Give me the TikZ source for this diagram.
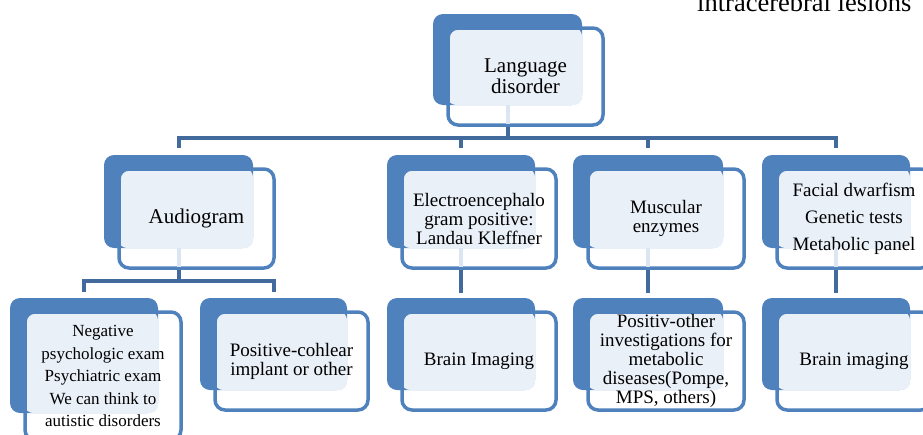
\documentclass[tikz,border=0pt]{standalone}
\usepackage{fontspec}
\setmainfont{Liberation Serif}
\usetikzlibrary{calc}
\definecolor{backblue}{HTML}{4F81BD}
\definecolor{lightfill}{HTML}{EAF0F8}
\definecolor{linkblue}{HTML}{426A9C}
\definecolor{paleline}{HTML}{DCE6F2}
\tikzset{
  frontbox/.style={draw=backblue, line width=3.5, rounded corners=10, align=center, inner sep=0pt},
  link/.style={draw=linkblue, line width=4},
  pale/.style={draw=paleline, line width=4},
  txt/.style={font=\fontsize{19}{19}\selectfont},
  bigtxt/.style={font=\fontsize{21}{21}\selectfont},
}
% #1 name, #2 Bx1, #3 By1, #4 Bx2, #5 By2, #6 Fx2, #7 Fy2, #8 node options, #9 text
\newcommand\stackbox[9]{%
  \fill[backblue, rounded corners=10] (#2,#3) rectangle (#4,#5);
  \fill[lightfill, rounded corners=8] (#2+15,#3+14) rectangle (#4,#5);
  \coordinate (#1-c) at ({(#2+#4)/2},#5);
  \coordinate (#1-t) at ({(#2+#4)/2},#3);
  \node[frontbox, #8, minimum width={#6-#2-15}, minimum height={#7-#3-14}] (#1)
     at ({(#2+15+#6)/2},{(#3+14+#7)/2}) {#9};
}
\begin{document}
\begin{tikzpicture}[x=1pt,y=-1pt]
\useasboundingbox (0,0) rectangle (923,434);

\node[anchor=base west, font=\fontsize{26.5}{26.5}\selectfont, inner sep=0pt] (note) at (697,11) {intracerebral lesions};

% top
\stackbox{top}{433}{14}{582}{105}{603}{125}{bigtxt}{Language\\disorder}
% level 2
\stackbox{aud}{104}{155}{253}{248}{274}{268}{bigtxt}{Audiogram}
\stackbox{eeg}{387}{155}{535}{248}{556}{268}{txt}{Electroencephalo\\gram positive:\\Landau Kleffner}
\stackbox{mus}{573}{155}{723}{248}{744}{268}{txt}{Muscular\\enzymes}
\stackbox{fac}{762}{155}{910}{248}{931}{268}{font=\fontsize{19}{27}\selectfont}{Facial dwarfism\\Genetic tests\\Metabolic panel}
% level 3
\stackbox{neg}{10}{298}{158}{413}{181}{440}{font=\fontsize{17}{22.5}\selectfont}{Negative\\psychologic exam\\Psychiatric exam\\We can think to\\autistic disorders}
\stackbox{pos}{200}{298}{347}{390}{368}{410}{txt}{Positive-cohlear\\implant or other}
\stackbox{bra}{387}{298}{535}{390}{556}{410}{txt}{Brain Imaging}
\stackbox{met}{573}{298}{723}{390}{744}{410}{txt}{Positiv-other\\investigations for\\metabolic\\diseases(Pompe,\\MPS, others)}
\stackbox{bri}{762}{298}{910}{390}{931}{410}{txt}{Brain imaging}

% pale stubs inside parent boxes
\foreach \n in {top,aud,eeg,mus,fac}{
  \draw[pale] (\n-c) -- ([yshift=2.5pt]\n-c |- \n.south);
}

% connectors level 1
\draw[link] (top-c |- top.south) -- ($(top-c |- aud-t)+(0,-17)$);
\draw[link] ($(aud-t)+(0,-7)$) -- ($(aud-t)+(0,-17)$) -- ($(fac-t)+(0,-17)$) -- ($(fac-t)+(0,-7)$);
\draw[link] ($(eeg-t)+(0,-7)$) -- ($(eeg-t)+(0,-18)$);
\draw[link] ($(mus-t)+(0,-7)$) -- ($(mus-t)+(0,-18)$);
% audiogram subtree
\draw[link] (aud-c |- aud.south) -- ($(aud-c |- neg-t)+(0,-17)$);
\draw[link] ($(neg-t)+(0,-6)$) -- ($(neg-t)+(0,-17)$) -- ($(pos-t)+(0,-17)$) -- ($(pos-t)+(0,-6)$);
% single chains
\draw[link] (eeg-c |- eeg.south) -- ($(bra-t)+(0,-5)$);
\draw[link] (mus-c |- mus.south) -- ($(met-t)+(0,-5)$);
\draw[link] (fac-c |- fac.south) -- ($(bri-t)+(0,-5)$);
\end{tikzpicture}
\end{document}
